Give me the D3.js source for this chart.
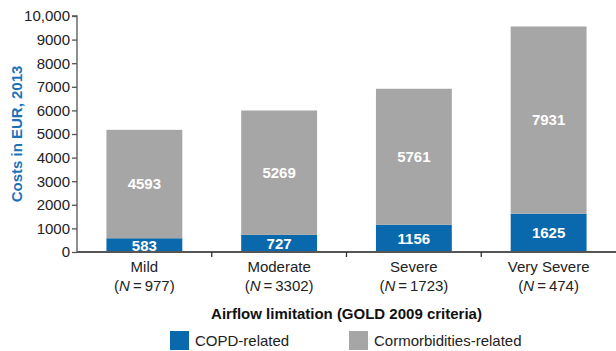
<!DOCTYPE html>
<html><head><meta charset="utf-8">
<script src="https://cdn.jsdelivr.net/npm/d3@7"></script>
<style>body{margin:0;background:#fff}svg{display:block}text{font-family:"Liberation Sans",Arial,sans-serif}</style>
</head><body>
<svg id="c" width="616" height="351"></svg>
<script>
const categories = ["Mild", "Moderate", "Severe", "Very Severe"];
const nValues = [977, 3302, 1723, 474];
const copd = [583, 727, 1156, 1625];
const comorb = [4593, 5269, 5761, 7931];
const yTicks = [0,1000,2000,3000,4000,5000,6000,7000,8000,9000,10000];
const seriesNames = ["COPD-related", "Cormorbidities-related"];
const colors = ["#0a69ad", "#a6a6a6"];

const svg = d3.select("#c");
const m = {l:77, r:616, t:16, b:252};
const x = d3.scaleBand().domain(categories).range([m.l, m.r]).paddingInner(0.437).paddingOuter(0.437/2);
const y = d3.scaleLinear().domain([0,10000]).range([m.b, m.t]);
const axisColor = "#555";

// bars
const data = categories.map((c,i)=>({c, a:copd[i], b:comorb[i]}));
const g = svg.append("g");
g.selectAll(".b1").data(data).enter().append("rect")
 .attr("x", d=>x(d.c)).attr("width", x.bandwidth())
 .attr("y", d=>y(d.a)).attr("height", d=>y(0)-y(d.a)).attr("fill", colors[0]);
g.selectAll(".b2").data(data).enter().append("rect")
 .attr("x", d=>x(d.c)).attr("width", x.bandwidth())
 .attr("y", d=>y(d.a+d.b)).attr("height", d=>y(d.a)-y(d.a+d.b)).attr("fill", colors[1]);
g.selectAll(".l1").data(data).enter().append("text")
 .attr("x", d=>x(d.c)+x.bandwidth()/2).attr("y", d=>(y(0)+y(d.a))/2)
 .attr("dy","0.36em").attr("text-anchor","middle").attr("fill","#fff")
 .attr("font-weight","bold").attr("font-size",15).text(d=>d.a);
g.selectAll(".l2").data(data).enter().append("text")
 .attr("x", d=>x(d.c)+x.bandwidth()/2).attr("y", d=>(y(d.a)+y(d.a+d.b))/2)
 .attr("dy","0.36em").attr("text-anchor","middle").attr("fill","#fff")
 .attr("font-weight","bold").attr("font-size",15).text(d=>d.b);

// y axis
const ya = svg.append("g").attr("transform",`translate(${m.l},0)`)
 .call(d3.axisLeft(y).tickValues(yTicks).tickSize(5).tickPadding(2)
   .tickFormat(d=> d===10000 ? d3.format(",")(d) : String(d)));
ya.select(".domain").attr("stroke",axisColor).attr("stroke-width",1.3).attr("d",`M-5,${y(10000)}H0V${y(0)}`);
ya.selectAll(".tick line").attr("stroke",axisColor).attr("stroke-width",1.3);
ya.selectAll(".tick text").attr("font-size",15).attr("fill","#222").attr("font-family","Liberation Sans, Arial, sans-serif");

// x axis
const bounds = categories.map(c=>x(c)-x.step()*x.paddingInner()/2).concat([m.r]);
svg.append("line").attr("x1",m.l).attr("x2",m.r).attr("y1",y(0)).attr("y2",y(0)).attr("stroke",axisColor).attr("stroke-width",2);
svg.selectAll(".xt").data(bounds.slice(1,-1)).enter().append("line")
 .attr("x1",d=>d).attr("x2",d=>d).attr("y1",y(0)).attr("y2",y(0)+5).attr("stroke","#333").attr("stroke-width",1.3);

const cl = svg.selectAll(".cl").data(categories).enter().append("g");
cl.append("text").attr("x",d=>x(d)+x.bandwidth()/2).attr("y",272).attr("text-anchor","middle")
 .attr("font-size",15).attr("fill","#222").text(d=>d);
cl.append("text").attr("x",d=>x(d)+x.bandwidth()/2).attr("y",291).attr("text-anchor","middle")
 .attr("font-size",15).attr("fill","#222")
 .each(function(d,i){
   const t=d3.select(this);
   t.append("tspan").text("(");
   t.append("tspan").attr("font-style","italic").text("N");
   t.append("tspan").text("\u2009=\u2009"+nValues[i]+")");
 });

svg.append("text").attr("x",(m.l+m.r)/2).attr("y",319).attr("text-anchor","middle")
 .attr("font-size",15).attr("font-weight","bold").attr("fill","#111").text("Airflow limitation (GOLD 2009 criteria)");

svg.append("text").attr("transform",`translate(22,${(m.t+m.b)/2}) rotate(-90)`)
 .attr("text-anchor","middle").attr("font-size",15).attr("font-weight","bold").attr("fill","#1a73b9")
 .text("Costs in EUR, 2013");

// legend
const lg = [{x:170, tx:195},{x:349, tx:374}];
seriesNames.forEach((s,i)=>{
  svg.append("rect").attr("x",lg[i].x).attr("y",331).attr("width",19).attr("height",19).attr("fill",colors[i]);
  svg.append("text").attr("x",lg[i].tx).attr("y",346).attr("font-size",15).attr("fill","#222").text(s);
});
</script>
</body></html>
